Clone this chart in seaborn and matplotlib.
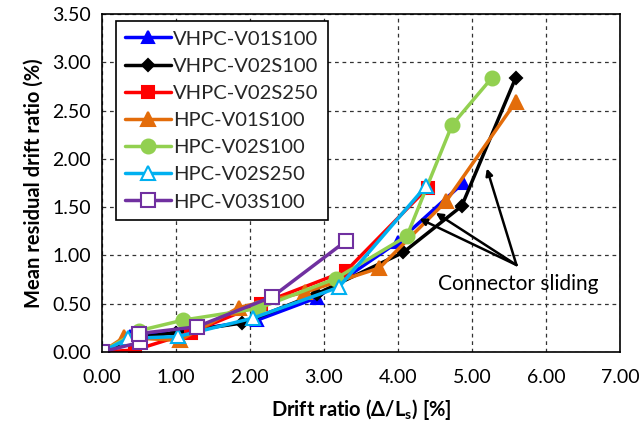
import matplotlib
matplotlib.use("Agg")
import matplotlib.pyplot as plt
import seaborn as sns
import pandas as pd
from matplotlib.ticker import FormatStrFormatter, MultipleLocator

# Specimen names, colours and markers
specimens = ["VHPC-V01S100", "VHPC-V02S100", "VHPC-V02S250", "HPC-V01S100",
             "HPC-V02S100", "HPC-V02S250", "HPC-V03S100"]

# Drift ratio (%) and mean residual drift ratio (%) for each specimen
drift_v01s100_vh = [0.00, 0.38, 1.00, 2.10, 2.90, 4.00, 4.88]
resid_v01s100_vh = [0.00, 0.16, 0.20, 0.33, 0.56, 1.14, 1.75]

drift_v02s100_vh = [0.00, 0.50, 1.00, 1.90, 2.90, 4.07, 4.86, 5.59]
resid_v02s100_vh = [0.00, 0.15, 0.20, 0.30, 0.60, 1.03, 1.51, 2.84]

drift_v02s250_vh = [0.00, 0.45, 1.20, 2.15, 3.30, 4.40]
resid_v02s250_vh = [0.00, 0.02, 0.20, 0.50, 0.84, 1.70]

drift_v01s100_h = [0.00, 0.30, 1.05, 1.85, 2.75, 3.75, 4.65, 5.59]
resid_v01s100_h = [0.00, 0.15, 0.12, 0.46, 0.62, 0.87, 1.56, 2.59]

drift_v02s100_h = [0.00, 0.50, 1.10, 2.11, 3.16, 4.12, 4.73, 5.27]
resid_v02s100_h = [0.00, 0.22, 0.33, 0.45, 0.76, 1.20, 2.35, 2.84]

drift_v02s250_h = [0.00, 0.36, 1.03, 2.04, 3.20, 4.38]
resid_v02s250_h = [0.00, 0.14, 0.16, 0.35, 0.67, 1.72]

drift_v03s100_h = [0.00, 0.52, 0.50, 1.28, 2.30, 3.30]
resid_v03s100_h = [0.00, 0.10, 0.19, 0.26, 0.57, 1.15]

drifts = [drift_v01s100_vh, drift_v02s100_vh, drift_v02s250_vh, drift_v01s100_h,
          drift_v02s100_h, drift_v02s250_h, drift_v03s100_h]
resids = [resid_v01s100_vh, resid_v02s100_vh, resid_v02s250_vh, resid_v01s100_h,
          resid_v02s100_h, resid_v02s250_h, resid_v03s100_h]

colors = ["#0000FF", "#000000", "#FF0000", "#E36C0A", "#92D050", "#00B0F0", "#7030A0"]
markers = ["^", "D", "s", "^", "o", "^", "s"]
msizes = [9, 6, 9, 10, 10, 10, 10]
faces = ["#0000FF", "#000000", "#FF0000", "#E36C0A", "#92D050", "white", "white"]

sns.set_theme(style="white")
plt.rcParams["font.family"] = ["Lato", "DejaVu Sans"]

fig = plt.figure(figsize=(6.4, 4.22), dpi=100)
ax = fig.add_axes([0.159, 0.166, 0.810, 0.801])

for name, xs, ys, c, m, ms, fc in zip(specimens, drifts, resids, colors, markers, msizes, faces):
    df = pd.DataFrame({"drift": xs, "resid": ys})
    sns.lineplot(data=df, x="drift", y="resid", sort=False, estimator=None, ax=ax,
                 color=c, linewidth=2.5, marker=m, markersize=ms,
                 markerfacecolor=fc, markeredgecolor=c, markeredgewidth=1.5,
                 label=name)

ax.set_xlim(0, 7)
ax.set_ylim(0, 3.5)
ax.xaxis.set_major_locator(MultipleLocator(1))
ax.yaxis.set_major_locator(MultipleLocator(0.5))
ax.xaxis.set_major_formatter(FormatStrFormatter("%.2f"))
ax.yaxis.set_major_formatter(FormatStrFormatter("%.2f"))
ax.tick_params(axis="both", labelsize=14, colors="black", length=0)
ax.tick_params(axis="x", pad=12)
ax.tick_params(axis="y", pad=8)
ax.grid(True, color="#333333", linestyle=(0, (3, 3)), linewidth=0.9)
for sp in ax.spines.values():
    sp.set_color("black")
    sp.set_linewidth(1.2)

ax.set_xlabel("Drift ratio (Δ/L$_\\mathregular{s}$) [%]", fontsize=14.5, fontweight="bold",
              color="black", labelpad=8)
ax.set_ylabel("Mean residual drift ratio (%)", fontsize=14.5, fontweight="bold",
              color="black", labelpad=6)

leg = ax.legend(loc="upper left", bbox_to_anchor=(0.027, 0.978), fontsize=14.5,
                frameon=True, fancybox=False, edgecolor="black", framealpha=1,
                handlelength=2.3, handletextpad=0.1, labelspacing=0.5,
                borderpad=0.45, borderaxespad=0, markerscale=1.0)
leg.get_frame().set_linewidth(1.2)

# Connector sliding callout
ax.text(4.54, 0.70, "Connector sliding", fontsize=15, color="black", ha="left", va="center")
tail = (5.60, 0.90)
for head in [(5.20, 1.90), (4.29, 1.38), (4.51, 1.44)]:
    ax.annotate("", xy=head, xytext=tail,
                arrowprops=dict(arrowstyle="-|>", color="black", lw=1.8,
                                mutation_scale=10, shrinkA=0, shrinkB=0))

fig.savefig("out.png", dpi=100)
